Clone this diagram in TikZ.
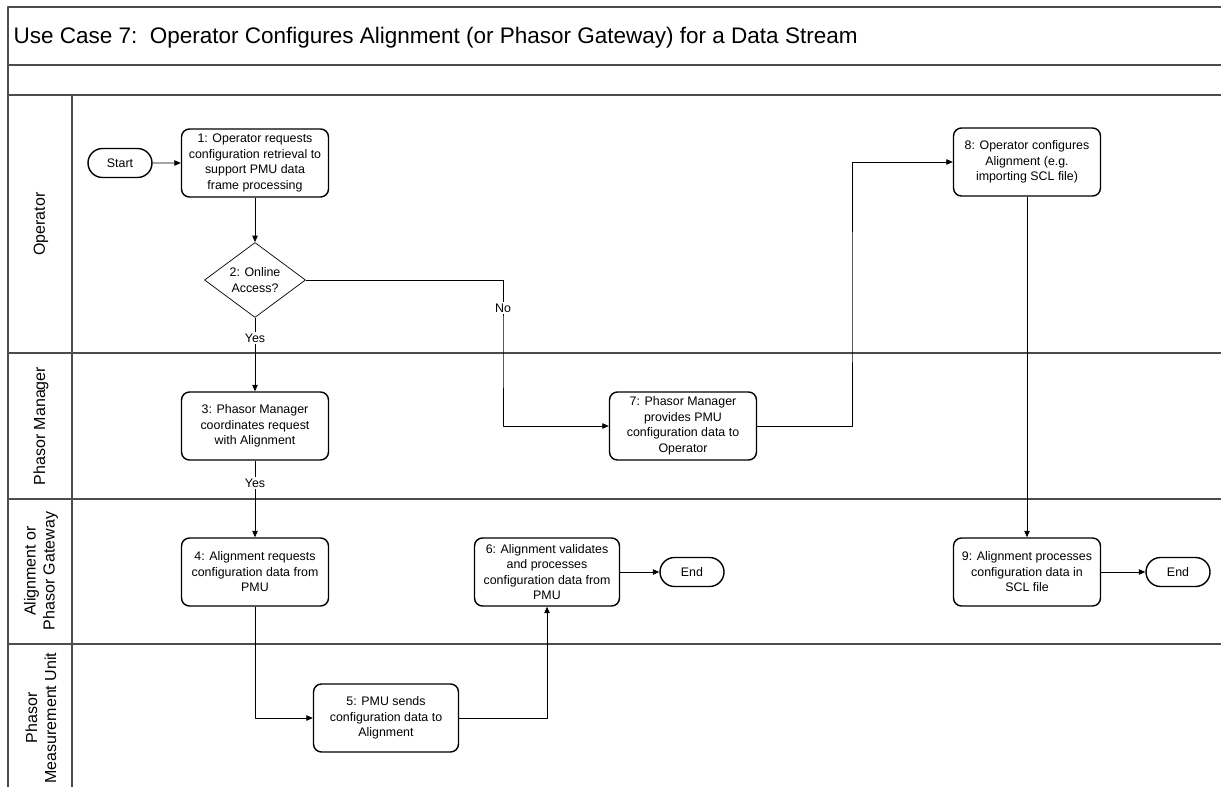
\documentclass[tikz,border=0pt]{standalone}
\usepackage{fontspec}
\setmainfont{Liberation Sans}
\usetikzlibrary{shapes.geometric,shapes.misc,arrows.meta}
\begin{document}
\begin{tikzpicture}[>={Triangle[length=6.5pt,width=5.5pt]},line join=round,x=1pt,y=-1pt,font=\fontsize{12.4}{15.5}\selectfont,
		stepbox/.style={draw,rounded corners=8pt,line width=1.4pt,minimum width=147pt,minimum height=68pt,inner sep=1pt,align=center},
		term/.style={draw,rounded rectangle,line width=1.4pt,minimum width=66pt,minimum height=29pt,inner sep=1pt},
		choice/.style={draw,diamond,aspect=1.35,line width=0.7pt,minimum width=101pt,minimum height=75pt,inner sep=0pt,align=center},
		lane/.style={line width=1.5pt,draw=black!70},
		flow/.style={->,line width=0.8pt},
		tag/.style={fill=white,inner sep=1.5pt},
		lanename/.style={rotate=90,align=center,font=\fontsize{16}{19}\selectfont}]
	\useasboundingbox (0,0) rectangle (1221,787);
	\draw[lane] (8,787)--(8,7)--(1221,7);
	\foreach \y in {65,95,353,499,644}\draw[lane] (8,\y)--(1221,\y);
	\draw[lane] (72,95)--(72,787);
	\node[anchor=base west,font=\fontsize{22.5}{27}\selectfont] (title) at (10,43) {Use Case 7:\ \ Operator Configures Alignment (or Phasor Gateway) for a Data Stream};
	\foreach \n/\y/\lbl in {op/224/Operator,pm/426/Phasor Manager,al/571/Alignment or\\Phasor Gateway,mu/718/Phasor\\Measurement Unit}
		\node[lanename] (\n) at (41,\y) {\lbl};
	\path
	(852,300) coordinate (k7)
	(503,350) coordinate (kno)
	;
	\node[term] (start) at (120,163) {Start};
	\node[stepbox] (s1) at (255,163) {1: Operator requests\\configuration retrieval to\\support PMU data\\frame processing};
	\node[choice] (s2) at (255,280) {2: Online\\Access?};
	\node[stepbox] (s3) at (255,426) {3: Phasor Manager\\coordinates request\\with Alignment};
	\node[stepbox] (s4) at (255,572) {4: Alignment requests\\configuration data from\\PMU};
	\node[stepbox,minimum width=145pt] (s5) at (386,718) {5: PMU sends\\configuration data to\\Alignment};
	\node[stepbox,minimum width=145pt] (s6) at (547,572) {6: Alignment validates\\and processes\\configuration data from\\PMU};
	\node[term] (end6) at (692,572) {End};
	\node[stepbox] (s7) at (683,426) {7: Phasor Manager\\provides PMU\\configuration data to\\Operator};
	\node[stepbox] (s8) at (1027,162) {8: Operator configures\\Alignment (e.g.\\importing SCL file)};
	\node[stepbox] (s9) at (1027,572) {9: Alignment processes\\configuration data in\\SCL file};
	\node[term] (end9) at (1178,572) {End};
	\draw[flow] (start)--(s1);
	\draw[flow] (s1)--(s2);
	\draw[flow] (s2)--(s3);
	\draw[flow] (s2)-|(kno)|-(s7);
	\draw[flow] (s3)--(s4);
	\draw[flow] (s4)|-(s5);
	\draw[flow] (s5)-|(s6);
	\draw[flow] (s6)--(end6);
	\draw[flow] (s7)-|(k7)|-(s8);
	\draw[flow] (s8)--(s9);
	\draw[flow] (s9)--(end9);
	\node[tag] (yes1) at (255,338) {Yes};
	\node[tag] (yes2) at (255,483) {Yes};
	\node[tag] (no) at (503,308) {No};
\end{tikzpicture}
\end{document}
